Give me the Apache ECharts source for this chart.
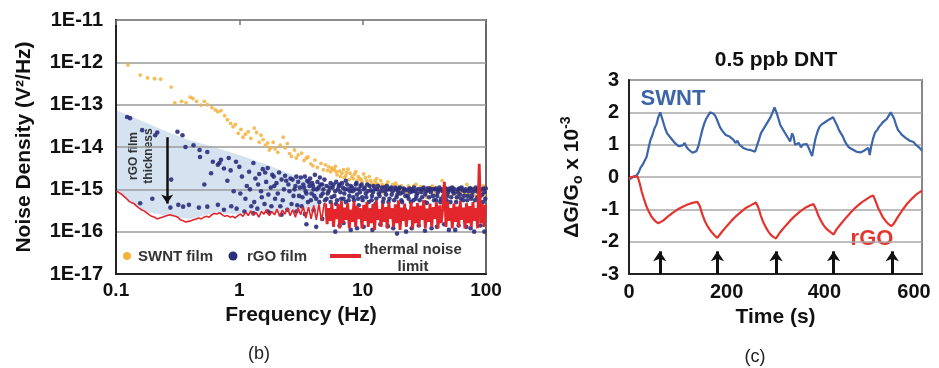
<!DOCTYPE html>
<html><head><meta charset="utf-8">
<script src="https://cdn.jsdelivr.net/npm/echarts@6/dist/echarts.min.js"></script>
<style>html,body{margin:0;padding:0;background:#fff}#c{width:939px;height:368px}</style>
</head><body><div id="c"></div>
<script>
// ---------- panel (b) ----------
const freqTickLabels = ['0.1', '1', '10', '100'];
const noiseTickLabels = ['1E-17', '1E-16', '1E-15', '1E-14', '1E-13', '1E-12', '1E-11'];

const swntFilm = [
  [0.125, 8.7e-13], [0.157, 5.0e-13], [0.18, 4.3e-13], [0.205, 4.1e-13], [0.23, 4.0e-13], [0.28, 2.6e-13],
  [0.30, 1.1e-13], [0.34, 1.2e-13], [0.37, 1.1e-13], [0.40, 1.5e-13], [0.42, 1.4e-13], [0.45, 1.2e-13],
  [0.49, 9.8e-14], [0.52, 1.2e-13], [0.55, 1.0e-13], [0.60, 8.5e-14], [0.64, 7.5e-14], [0.67, 6.8e-14],
  [0.71, 7.2e-14], [0.76, 5.5e-14], [0.80, 4.4e-14], [0.85, 3.6e-14], [0.89, 3.0e-14], [0.93, 3.4e-14],
  [0.98, 2.1e-14], [1.03, 2.6e-14], [1.07, 1.7e-14], [1.12, 2.0e-14], [1.18, 2.3e-14], [1.24, 1.6e-14],
  [1.32, 2.8e-14], [1.38, 2.2e-14], [1.45, 1.3e-14], [1.50, 1.9e-14], [1.56, 1.5e-14], [1.63, 1.1e-14],
  [1.70, 1.25e-14], [1.75, 8.5e-15], [1.80, 9.6e-15], [1.88, 1.3e-14], [1.95, 9.0e-15], [2.05, 7.5e-15],
  [2.15, 1.1e-14], [2.27, 1.7e-14], [2.35, 9.5e-15], [2.45, 1.2e-14], [2.55, 7.0e-15], [2.65, 6.0e-15],
  [2.8, 8.5e-15], [2.9, 5.5e-15], [3.0, 6.5e-15], [3.2, 7.2e-15], [3.35, 4.8e-15], [3.5, 5.5e-15],
  [3.6, 5.8e-15], [3.8, 4.0e-15], [3.95, 3.6e-15], [4.1, 4.9e-15], [4.3, 3.3e-15], [4.6, 4.1e-15],
  [4.8, 2.9e-15], [5.0, 3.8e-15], [5.3, 3.4e-15], [5.5, 2.6e-15], [5.7, 3.0e-15], [5.9, 2.9e-15],
  [6.0, 3.5e-15], [6.2, 2.2e-15], [6.5, 2.7e-15], [6.8, 2.4e-15], [7.1, 1.9e-15], [7.4, 2.5e-15],
  [7.6, 3.0e-15], [7.8, 1.7e-15], [8.2, 2.0e-15], [8.6, 2.3e-15], [9.0, 1.6e-15], [9.5, 1.8e-15],
  [9.9, 1.5e-15], [10.2, 2.3e-15], [10.5, 1.9e-15], [11.0, 1.3e-15], [11.6, 1.6e-15], [12.2, 1.2e-15],
  [12.9, 1.4e-15], [13.0, 1.8e-15], [13.6, 1.1e-15], [14.4, 1.3e-15], [15.0, 8.0e-16], [15.2, 1.0e-15],
  [16.0, 1.5e-15], [17.0, 1.1e-15], [18.0, 9.5e-16], [18.5, 1.4e-15], [19.0, 1.2e-15], [20.0, 9.0e-16],
  [21.2, 1.05e-15], [22.5, 8.5e-16], [23.0, 7.0e-16], [24.0, 1.1e-15], [25.5, 9.0e-16], [26.0, 1.2e-15],
  [27.0, 1.3e-15], [28.7, 8.7e-16], [30.5, 1.0e-15], [32.5, 8.2e-16], [33.0, 6.5e-16], [34.5, 9.5e-16],
  [35.5, 1.1e-15], [36.7, 1.2e-15], [39.0, 8.0e-16], [41.5, 9.2e-16], [44.0, 1.6e-15], [45.0, 6.8e-16],
  [46.8, 8.5e-16], [48.0, 1.05e-15], [49.7, 7.6e-16], [52.8, 1.0e-15], [56.1, 8.0e-16], [58.0, 6.2e-16],
  [59.6, 7.2e-16], [62.0, 1.1e-15], [63.3, 9.0e-16], [67.3, 7.8e-16], [70.0, 1.3e-15], [71.5, 7.4e-16],
  [76.0, 1.1e-15], [80.7, 7.0e-16], [85.7, 8.2e-16], [88.0, 1.0e-15], [91.1, 6.8e-16], [95.0, 1.2e-15],
  [96.8, 7.5e-16],
  [5.2, 2.8e-15], [5.6, 3.2e-15], [6.1, 2.6e-15], [6.6, 2.0e-15], [7.0, 2.9e-15], [7.3, 2.1e-15],
  [7.9, 2.4e-15], [8.4, 1.8e-15], [8.8, 2.6e-15], [9.2, 2.0e-15], [9.7, 1.7e-15], [10.8, 1.6e-15],
  [11.3, 2.0e-15], [11.9, 1.4e-15], [12.6, 1.6e-15], [13.3, 1.3e-15], [14.0, 1.6e-15], [14.8, 1.2e-15],
  [15.6, 1.3e-15], [16.5, 1.0e-15], [17.5, 1.3e-15], [19.5, 1.0e-15], [20.6, 1.2e-15], [21.8, 9.5e-16],
  [23.5, 1.2e-15], [24.8, 1.0e-15], [27.8, 1.0e-15], [29.5, 1.15e-15], [31.5, 9.5e-16], [33.8, 1.1e-15],
  [37.8, 1.0e-15], [40.2, 1.1e-15], [42.8, 1.0e-15], [46.0, 1.2e-15], [50.5, 9.5e-16], [54.5, 1.1e-15],
  [57.8, 9.5e-16], [61.0, 8.5e-16], [65.0, 1.0e-15], [69.0, 9.0e-16], [73.5, 8.5e-16], [78.0, 9.5e-16],
  [83.0, 1.05e-15], [87.0, 8.5e-16], [93.0, 9.5e-16], [98.5, 1.0e-15]
];

const rgoFilm = [
  [0.123, 5.1e-14], [0.13, 4.8e-14], [0.163, 2.5e-14], [0.208, 1.9e-14], [0.216, 2.2e-14], [0.315, 2.3e-14],
  [0.346, 1.9e-14], [0.366, 1.0e-14], [0.425, 1.1e-14], [0.476, 8.5e-15], [0.48, 5.8e-15], [0.55, 7.6e-15],
  [0.61, 4.5e-15], [0.67, 3.8e-15], [0.69, 4.2e-15], [0.71, 5.0e-15], [0.75, 3.1e-15], [0.82, 5.5e-15],
  [0.85, 2.8e-15], [0.94, 4.5e-15], [0.59, 2.4e-15], [0.28, 1.7e-15],
  [0.157, 4.7e-16], [0.197, 6.0e-16], [0.276, 3.7e-16], [0.32, 4.3e-16], [0.35, 3.9e-16], [0.39, 4.3e-16],
  [0.47, 3.7e-16], [0.55, 3.9e-16], [0.67, 4.3e-16], [0.75, 3.3e-16], [0.86, 4.0e-16], [0.95, 3.5e-16],
  [0.52, 1.3e-15], [0.8, 1.6e-15], [0.9, 9.0e-16],
  [1.0, 3.4e-15], [1.05, 2.0e-15], [1.1, 3.0e-16], [1.15, 1.2e-15], [1.2, 2.6e-15], [1.25, 4.0e-16],
  [1.3, 4.2e-15], [1.35, 1.8e-15], [1.4, 3.5e-16], [1.45, 2.3e-15], [1.5, 9.0e-16], [1.55, 3.0e-15],
  [1.6, 4.5e-16], [1.65, 1.5e-15], [1.7, 3.2e-15], [1.75, 2.8e-16], [1.8, 1.1e-15], [1.85, 2.2e-15],
  [1.9, 2.0e-15], [1.95, 6.0e-16], [2.0, 1.4e-15], [2.1, 2.5e-15], [2.15, 4.0e-16], [2.2, 1.7e-15],
  [2.3, 1.0e-15], [2.35, 2.1e-15], [2.45, 3.3e-16], [2.5, 1.3e-15], [2.6, 1.8e-15], [2.7, 1.7e-15],
  [2.75, 7.0e-16], [2.85, 1.2e-15], [2.95, 4.2e-16], [3.0, 1.5e-15],
  [3.1, 1.1e-15], [3.15, 1.9e-15], [3.25, 6.5e-16], [3.3, 1.3e-15], [3.4, 2.0e-15], [3.45, 9.0e-16],
  [3.55, 1.6e-15], [3.6, 5.0e-16], [3.7, 1.2e-15], [3.75, 1.8e-15], [3.85, 8.0e-16], [3.9, 1.4e-15],
  [4.0, 1.0e-15], [4.1, 2.2e-15], [4.2, 6.0e-16], [4.3, 1.5e-15], [4.4, 1.1e-15], [4.5, 1.9e-15],
  [4.6, 7.0e-16], [4.7, 1.3e-15], [4.8, 1.0e-15], [4.9, 1.7e-15], [3.5, 1.5e-16], [4.2, 1.3e-16], [4.7, 2.0e-16],
  [1.02, 8.0e-16], [1.12, 6.0e-16], [1.22, 1.0e-15], [1.32, 5.0e-16], [1.42, 1.3e-15], [1.52, 6.5e-16],
  [1.62, 2.5e-15], [1.72, 7.5e-16], [1.82, 4.0e-16], [1.92, 1.2e-15], [2.05, 8.0e-16], [2.25, 5.5e-16],
  [2.4, 1.6e-15], [2.55, 9.0e-16], [2.65, 4.5e-16], [2.8, 1.0e-15], [2.9, 2.0e-15], [3.05, 7.0e-16],
  [3.2, 4.0e-16], [3.35, 1.1e-15], [3.5, 8.0e-16], [3.65, 1.5e-15], [3.8, 5.5e-16], [3.95, 1.2e-15],
  [4.05, 7.0e-16], [4.25, 1.0e-15], [4.45, 5.0e-16], [4.55, 1.3e-15], [4.75, 8.0e-16], [4.95, 5.5e-16],
  [1.3, 2.7e-16], [1.7, 3.0e-16], [2.2, 2.5e-16], [2.9, 3.0e-16], [3.4, 2.6e-16], [4.0, 3.2e-16],
  [5.1, 1.2e-15], [5.1, 6.0e-16], [5.3, 9.0e-16], [5.5, 1.4e-15], [5.5, 5.0e-16], [5.7, 1.1e-15],
  [5.9, 7.0e-16], [6.1, 1.5e-15], [6.1, 4.5e-16], [6.3, 1.0e-15], [6.5, 1.3e-15], [6.5, 1.4e-16],
  [6.7, 6.0e-16], [6.9, 1.1e-15], [7.1, 8.0e-16], [7.3, 1.6e-15], [7.3, 5.0e-16], [7.6, 1.0e-15],
  [7.8, 7.0e-16], [8.0, 1.2e-15], [8.0, 1.1e-16], [8.3, 9.0e-16], [8.5, 5.5e-16], [8.8, 1.3e-15],
  [9.0, 7.5e-16], [9.3, 1.0e-15], [9.3, 4.2e-16], [9.6, 1.2e-15], [9.9, 6.5e-16], [10.2, 1.0e-15],
  [10.2, 1.3e-16], [10.6, 8.0e-16], [10.9, 1.3e-15], [11.2, 5.0e-16], [11.6, 9.5e-16], [11.9, 7.0e-16],
  [12.3, 1.2e-15], [12.7, 4.5e-16], [13.1, 1.0e-15], [13.5, 8.0e-16], [13.9, 1.5e-16], [14.3, 1.1e-15],
  [14.8, 6.0e-16], [15.2, 9.0e-16], [15.7, 1.2e-15], [16.2, 5.0e-16], [16.7, 1.0e-15], [17.2, 7.5e-16],
  [17.7, 1.2e-16], [18.3, 1.1e-15], [18.8, 6.5e-16], [19.4, 9.0e-16], [20.0, 1.1e-15], [20.6, 5.5e-16],
  [21.2, 8.5e-16], [21.9, 1.0e-15], [22.5, 1.0e-16], [23.2, 7.0e-16], [23.9, 1.05e-15], [24.6, 5.0e-16],
  [25.4, 9.0e-16], [26.1, 1.1e-15], [26.9, 6.0e-16], [27.7, 8.0e-16], [28.5, 1.4e-16], [29.4, 1.0e-15],
  [30.3, 6.5e-16], [31.2, 1.1e-15], [32.1, 7.5e-16], [33.1, 4.8e-16], [34.1, 9.5e-16], [35.1, 1.05e-15],
  [36.2, 1.2e-16], [37.2, 7.0e-16], [38.4, 1.0e-15], [39.5, 5.5e-16], [40.7, 8.5e-16], [41.9, 1.1e-15],
  [43.2, 6.0e-16], [44.5, 9.0e-16], [45.8, 1.5e-16], [47.2, 1.05e-15], [48.6, 7.0e-16], [50.0, 9.5e-16],
  [51.5, 5.0e-16], [53.1, 1.1e-15], [54.7, 8.0e-16], [56.3, 1.1e-16], [58.0, 6.5e-16], [59.7, 1.0e-15],
  [61.5, 7.5e-16], [63.4, 1.1e-15], [65.3, 5.5e-16], [67.2, 9.0e-16], [69.2, 1.3e-16], [71.3, 7.0e-16],
  [73.4, 1.05e-15], [75.6, 6.0e-16], [77.9, 8.5e-16], [80.2, 1.0e-16], [82.6, 1.1e-15], [85.1, 6.5e-16],
  [87.7, 9.0e-16], [90.3, 1.4e-16], [93.0, 7.5e-16], [95.8, 1.05e-15], [98.6, 6.0e-16],
  [5.2, 8.0e-16], [5.4, 1.1e-15], [5.6, 6.5e-16], [5.8, 1.3e-15], [6.0, 9.0e-16], [6.2, 5.5e-16],
  [6.4, 1.2e-15], [6.6, 8.5e-16], [6.8, 1.4e-15], [7.0, 6.0e-16], [7.2, 1.0e-15], [7.5, 1.3e-15],
  [7.7, 5.5e-16], [7.9, 9.0e-16], [8.2, 1.1e-15], [8.4, 6.5e-16], [8.7, 1.0e-15], [8.9, 1.4e-15],
  [9.2, 6.0e-16], [9.5, 8.5e-16], [9.8, 1.3e-15], [10.0, 5.5e-16], [10.4, 1.1e-15], [10.7, 6.5e-16],
  [11.0, 9.0e-16], [11.4, 1.2e-15], [11.8, 5.5e-16], [12.1, 8.5e-16], [12.5, 1.0e-15], [12.9, 6.0e-16],
  [13.3, 1.2e-15], [13.7, 7.0e-16], [14.1, 9.0e-16], [14.6, 5.0e-16], [15.0, 1.1e-15], [15.5, 7.5e-16],
  [16.0, 1.0e-15], [16.5, 6.0e-16], [17.0, 1.1e-15], [17.5, 9.0e-16], [18.0, 5.5e-16], [18.6, 1.0e-15],
  [19.1, 7.5e-16], [19.7, 1.05e-15], [20.3, 8.0e-16], [20.9, 5.0e-16], [21.5, 1.05e-15], [22.2, 7.0e-16],
  [22.9, 9.5e-16], [23.6, 6.0e-16], [24.3, 8.5e-16], [25.0, 1.0e-15], [25.8, 5.5e-16], [26.5, 9.0e-16],
  [27.3, 7.0e-16], [28.1, 1.0e-15], [29.0, 5.5e-16], [29.9, 8.5e-16], [30.8, 1.0e-15], [31.7, 5.0e-16],
  [32.7, 9.0e-16], [33.6, 1.05e-15], [34.6, 6.5e-16], [35.7, 8.5e-16], [36.8, 1.0e-15], [37.9, 5.5e-16],
  [39.0, 1.05e-15], [40.2, 7.0e-16], [41.4, 9.5e-16], [42.6, 5.0e-16], [43.9, 1.0e-15], [45.2, 7.0e-16],
  [46.5, 1.0e-15], [47.9, 5.5e-16], [49.3, 8.5e-16], [50.8, 1.05e-15], [52.3, 6.5e-16], [53.9, 9.0e-16],
  [55.5, 1.0e-15], [57.2, 5.0e-16], [58.9, 8.5e-16], [60.7, 1.05e-15], [62.5, 6.0e-16], [64.4, 9.5e-16],
  [66.3, 7.0e-16], [68.3, 1.0e-15], [70.3, 5.5e-16], [72.4, 9.0e-16], [74.5, 1.05e-15], [76.8, 7.0e-16],
  [79.0, 1.0e-15], [81.4, 5.5e-16], [83.8, 9.0e-16], [86.4, 1.0e-15], [89.0, 7.0e-16], [91.6, 1.0e-15],
  [94.4, 5.0e-16], [97.2, 8.5e-16], [99.5, 1.05e-15],
  [6.0, 1.0e-16], [7.0, 1.6e-16], [9.0, 1.2e-16], [12.0, 1.1e-16], [16.0, 1.35e-16], [19.0, 9.0e-17],
  [25.0, 1.2e-16], [32.0, 1.05e-16], [40.0, 1.3e-16], [50.0, 1.1e-16], [60.0, 1.4e-16], [75.0, 1.2e-16],
  [97.0, 1.0e-16], [5.8, 3.0e-16], [8.6, 2.6e-16], [11.5, 3.2e-16], [15.5, 2.8e-16], [22.0, 3.3e-16],
  [30.0, 2.5e-16], [42.0, 3.1e-16], [55.0, 2.7e-16], [68.0, 3.3e-16], [85.0, 2.9e-16]
];

const thermalFreq = [
  0.100, 0.105, 0.110, 0.116, 0.122, 0.128, 0.134, 0.140, 0.147, 0.154, 0.161, 0.169, 0.177, 0.186, 0.195,
  0.205, 0.215, 0.226, 0.237, 0.249, 0.261, 0.274, 0.288, 0.302, 0.317, 0.333, 0.350, 0.367, 0.385, 0.405,
  0.425, 0.446, 0.468, 0.492, 0.516, 0.542, 0.569, 0.598, 0.628, 0.659, 0.692, 0.727, 0.763, 0.801, 0.841,
  0.883, 0.927, 0.974, 1.02, 1.07, 1.13, 1.18, 1.24, 1.30, 1.37, 1.44, 1.51, 1.58, 1.66, 1.75, 1.83, 1.93,
  2.02, 2.12, 2.23, 2.34, 2.46, 2.58, 2.71, 2.85, 2.99, 3.14, 3.30, 3.46, 3.64, 3.82, 4.01, 4.21, 4.42,
  4.64, 4.87,
  5.0, 5.15, 5.3, 5.46, 5.63, 5.8, 5.97, 6.15, 6.33, 6.52, 6.72, 6.92, 7.13, 7.34, 7.56, 7.79, 8.02, 8.26,
  8.51, 8.77, 9.03, 9.3, 9.58, 9.87, 10.2, 10.5, 10.8, 11.1, 11.4, 11.8, 12.1, 12.5, 12.9, 13.3, 13.7, 14.1,
  14.5, 14.9, 15.4, 15.8, 16.3, 16.8, 17.3, 17.8, 18.4, 18.9, 19.5, 20.1, 20.7, 21.3, 21.9, 22.6, 23.3, 24.0,
  24.7, 25.4, 26.2, 27.0, 27.8, 28.6, 29.5, 30.4, 31.3, 32.2, 33.2, 34.2, 35.2, 36.3, 37.4, 38.5, 39.6, 40.8,
  42.1, 43.3, 44.6, 46.0, 47.4, 48.8, 50.2, 51.7, 53.3, 54.9, 56.5, 58.2, 60.0, 61.8, 63.6, 65.5, 67.5, 69.5,
  71.6, 73.8, 76.0, 78.3, 80.6, 83.0, 85.5, 88.1, 90.7, 93.4, 96.2, 99.0
];
const thermalNoise = [
  9.0e-16, 8.5e-16, 7.8e-16, 6.8e-16, 6.0e-16, 5.2e-16, 4.8e-16, 4.6e-16, 4.0e-16, 3.6e-16, 3.3e-16, 3.1e-16,
  2.8e-16, 2.5e-16, 2.3e-16, 2.2e-16, 2.0e-16, 2.1e-16, 2.2e-16, 2.3e-16, 2.4e-16, 2.5e-16, 2.4e-16, 2.3e-16,
  2.2e-16, 1.9e-16, 1.8e-16, 1.7e-16, 1.75e-16, 1.8e-16, 1.9e-16, 2.0e-16, 2.1e-16, 2.0e-16, 2.2e-16, 2.3e-16,
  2.2e-16, 2.5e-16, 2.7e-16, 2.6e-16, 2.8e-16, 2.5e-16, 2.3e-16, 2.4e-16, 2.2e-16, 2.3e-16, 2.1e-16, 2.4e-16,
  2.6e-16, 2.3e-16, 2.9e-16, 2.4e-16, 3.1e-16, 2.5e-16, 2.8e-16, 2.2e-16, 3.0e-16, 2.6e-16, 3.3e-16, 2.4e-16,
  3.0e-16, 2.5e-16, 3.4e-16, 2.3e-16, 3.2e-16, 2.6e-16, 3.6e-16, 2.4e-16, 3.3e-16, 2.2e-16, 3.7e-16, 2.5e-16,
  3.9e-16, 2.1e-16, 3.8e-16, 2.0e-16, 4.2e-16, 1.9e-16, 4.4e-16, 1.8e-16, 4.6e-16,
  4.6e-16, 1.5e-16, 3.6e-16, 1.8e-16, 4.8e-16, 1.3e-16, 3.4e-16, 2.0e-16, 4.5e-16, 1.2e-16, 5.3e-16, 1.6e-16,
  3.7e-16, 1.9e-16, 4.7e-16, 1.2e-16, 3.3e-16, 1.7e-16, 5.2e-16, 1.3e-16, 4.0e-16, 2.0e-16, 3.6e-16, 1.2e-16,
  4.3e-16, 1.8e-16, 5.0e-16, 1.3e-16, 3.5e-16, 1.6e-16, 4.5e-16, 1.1e-16, 5.4e-16, 1.9e-16, 3.4e-16, 1.3e-16,
  4.6e-16, 1.7e-16, 3.8e-16, 1.2e-16, 4.9e-16, 2.0e-16, 3.6e-16, 1.3e-16, 4.4e-16, 1.6e-16, 5.5e-16, 1.1e-16,
  3.7e-16, 1.8e-16, 4.6e-16, 1.3e-16, 3.3e-16, 1.9e-16, 5.0e-16, 1.2e-16, 3.9e-16, 1.6e-16, 4.7e-16, 1.3e-16,
  4.1e-16, 1.9e-16, 5.6e-16, 1.2e-16, 3.5e-16, 1.7e-16, 4.6e-16, 1.3e-16, 3.8e-16, 2.0e-16, 4.9e-16, 1.2e-16,
  4.2e-16, 1.6e-16, 3.5e-16, 1.5e-15, 1.3e-16, 5.1e-16, 1.8e-16, 3.6e-16, 1.2e-16, 4.6e-16, 1.7e-16, 3.9e-16,
  1.3e-16, 5.3e-16, 1.9e-16, 3.7e-16, 1.2e-16, 4.7e-16, 1.6e-16, 4.0e-16, 1.3e-16, 5.0e-16, 1.8e-16, 3.6e-16,
  1.2e-16, 4.0e-15, 1.6e-16, 4.5e-16, 1.3e-16, 4.3e-16
];
const thermalBandStart = 5.0; // Hz, where the thermal trace turns into a dense noisy band

const shadeFreq = [0.1, 0.17, 0.26, 0.38, 0.7, 1.0, 1.6, 2.5, 3.5, 4.6, 4.6, 3.0, 2.0, 1.0, 0.6, 0.4, 0.25, 0.18, 0.14, 0.12, 0.1];
const shadeLevel = [7.5e-14, 3.9e-14, 2.3e-14, 1.5e-14, 9.0e-15, 6.5e-15, 4.0e-15, 2.4e-15, 1.6e-15, 1.15e-15, 3.5e-16, 3.0e-16, 2.8e-16, 2.6e-16, 2.7e-16, 2.0e-16, 2.4e-16, 2.9e-16, 4.4e-16, 6.0e-16, 9.0e-16];

const thicknessArrow = [[0.26, 1.7e-14], [0.26, 4.6e-16]];

// ---------- panel (c) ----------
const swntResponse = [
  [0, -0.08], [4, -0.02], [8, 0.0], [12, 0.02], [16, 0.05], [20, 0.15], [24, 0.3], [28, 0.38], [32, 0.5],
  [36, 0.62], [40, 0.9], [44, 1.15], [48, 1.3], [52, 1.5], [56, 1.62], [60, 1.85], [64, 2.0], [67, 1.85],
  [70, 1.7], [74, 1.5], [78, 1.35], [82, 1.38], [86, 1.2], [90, 1.15], [94, 1.05], [98, 1.1], [102, 0.95],
  [106, 1.0], [110, 0.98], [114, 1.05], [118, 0.92], [122, 0.85], [126, 0.8], [130, 0.75], [134, 0.76],
  [138, 0.8], [142, 0.95], [146, 1.2], [150, 1.45], [154, 1.65], [158, 1.8], [162, 1.9], [166, 2.0],
  [170, 1.98], [174, 1.95], [178, 1.85], [182, 1.7], [186, 1.55], [190, 1.45], [194, 1.4], [198, 1.3],
  [202, 1.35], [206, 1.25], [210, 1.2], [214, 1.15], [218, 1.05], [222, 1.12], [226, 1.0], [230, 0.98],
  [234, 0.9], [238, 0.88], [242, 0.85], [246, 0.84], [250, 0.83], [254, 0.8], [258, 0.78], [262, 0.82],
  [266, 1.15], [270, 1.35], [274, 1.45], [278, 1.55], [282, 1.65], [286, 1.7], [290, 1.85], [294, 2.0],
  [298, 2.15], [302, 2.0], [306, 1.8], [310, 1.6], [314, 1.5], [318, 1.4], [322, 1.3], [326, 1.2],
  [330, 1.1], [334, 1.35], [337, 1.25], [340, 1.0], [344, 0.98], [348, 1.05], [352, 0.92], [356, 1.0],
  [360, 0.95], [364, 1.02], [368, 0.9], [372, 0.75], [375, 0.65], [378, 0.9], [382, 1.2], [386, 1.4],
  [390, 1.55], [394, 1.62], [398, 1.65], [402, 1.7], [406, 1.72], [410, 1.78], [414, 1.8], [418, 1.85],
  [422, 1.72], [426, 1.6], [430, 1.45], [434, 1.35], [438, 1.25], [442, 1.1], [446, 1.0], [450, 0.92],
  [454, 0.88], [458, 0.85], [462, 0.8], [466, 0.78], [470, 0.78], [474, 0.76], [478, 0.8], [482, 0.82],
  [486, 0.88], [490, 0.9], [493, 0.68], [496, 0.95], [500, 1.2], [504, 1.38], [508, 1.45], [512, 1.55],
  [516, 1.62], [520, 1.7], [524, 1.75], [528, 1.8], [532, 1.9], [536, 2.0], [539, 2.05], [543, 1.8],
  [547, 1.6], [551, 1.45], [555, 1.38], [559, 1.3], [563, 1.28], [567, 1.2], [571, 1.18], [575, 1.12],
  [579, 1.1], [583, 1.08], [587, 1.0], [591, 0.98], [595, 0.9], [600, 0.82]
];
const rgoResponse = [
  [0, -0.05], [5, 0.0], [12, 0.02], [18, 0.0], [22, -0.2], [26, -0.45], [30, -0.65], [35, -0.88], [40, -1.05],
  [45, -1.2], [50, -1.3], [55, -1.38], [60, -1.43], [63, -1.45], [70, -1.35], [80, -1.22], [90, -1.1],
  [100, -1.0], [110, -0.92], [120, -0.85], [130, -0.8], [140, -0.77], [145, -0.9], [150, -1.15], [155, -1.35],
  [160, -1.5], [165, -1.62], [170, -1.72], [176, -1.82], [181, -1.88], [190, -1.7], [200, -1.52], [210, -1.35],
  [220, -1.2], [230, -1.07], [240, -0.95], [250, -0.87], [260, -0.79], [265, -0.95], [270, -1.2], [275, -1.4],
  [280, -1.55], [285, -1.68], [290, -1.78], [296, -1.86], [301, -1.9], [310, -1.7], [320, -1.52], [330, -1.35],
  [340, -1.2], [350, -1.07], [360, -0.96], [370, -0.88], [378, -0.84], [383, -1.0], [388, -1.2], [393, -1.35],
  [398, -1.48], [403, -1.58], [408, -1.65], [414, -1.72], [419, -1.78], [425, -1.62], [435, -1.43], [445, -1.25],
  [455, -1.08], [465, -0.93], [475, -0.8], [485, -0.7], [495, -0.6], [500, -0.57], [505, -0.75], [510, -0.95],
  [515, -1.1], [520, -1.25], [525, -1.35], [531, -1.45], [537, -1.52], [542, -1.45], [550, -1.25], [560, -1.02],
  [570, -0.82], [580, -0.66], [590, -0.52], [600, -0.42]
];
const exposureTimes = [63, 181, 301, 419, 539];
const timeMaxLabel = '600';

// ---------- chart ----------
const FONT = '"Liberation Sans", Arial, Helvetica, sans-serif';
const chart = echarts.init(document.getElementById('c'), null, { renderer: 'canvas' });

const thermalLine = thermalFreq.map((f, i) => [f, thermalNoise[i]]);
const thermalLow = thermalLine.filter(p => p[0] <= thermalBandStart);
const thermalBand = thermalLine.filter(p => p[0] >= thermalBandStart);
const logIdx = v => Math.round(Math.log10(v));

const option = {
  animation: false,
  backgroundColor: '#fff',
  textStyle: { fontFamily: FONT },
  grid: [
    { left: 116, top: 20, width: 370, height: 254, show: true, borderColor: '#666', borderWidth: 2, backgroundColor: 'transparent' },
    { left: 629, top: 80, width: 293, height: 194, show: true, borderColor: '#888', borderWidth: 2, backgroundColor: 'transparent' }
  ],
  xAxis: [
    {
      type: 'log', gridIndex: 0, logBase: 10, min: 0.1, max: 100, splitNumber: 3,
      axisLine: { show: true, lineStyle: { color: '#222', width: 2 } },
      axisTick: { show: false }, splitLine: { show: false }, minorTick: { show: false },
      axisLabel: {
        formatter: v => freqTickLabels[logIdx(v) + 1], fontSize: 19, fontWeight: 'bold', color: '#111',
        margin: 7, fontFamily: FONT
      },
      name: 'Frequency (Hz)', nameLocation: 'middle', nameGap: 31,
      nameTextStyle: { fontSize: 21, fontWeight: 'bold', color: '#111', fontFamily: FONT }
    },
    {
      type: 'log', gridIndex: 0, logBase: 10, min: 0.1, max: 100, splitNumber: 3, position: 'top',
      axisLine: { show: false }, axisLabel: { show: false }, splitLine: { show: false },
      axisTick: { show: true, inside: true, length: 5, lineStyle: { color: '#777', width: 1.5 } }
    },
    {
      type: 'value', gridIndex: 1, min: 0, max: 600, interval: 200,
      axisLine: { show: true, onZero: false, lineStyle: { color: '#222', width: 2 } },
      axisTick: { show: false }, splitLine: { show: false },
      axisLabel: {
        formatter: v => (String(v) === timeMaxLabel ? '{m|' + v + '}' : String(v)),
        fontSize: 20, fontWeight: 'bold', color: '#111', margin: 8, fontFamily: FONT,
        rich: { m: { fontSize: 20, fontWeight: 'bold', color: '#111', fontFamily: FONT, padding: [0, 16, 0, 0] } }
      },
      name: 'Time (s)', nameLocation: 'middle', nameGap: 31,
      nameTextStyle: { fontSize: 21, fontWeight: 'bold', color: '#111', fontFamily: FONT }
    }
  ],
  yAxis: [
    {
      type: 'log', gridIndex: 0, logBase: 10, min: 1e-17, max: 1e-11, splitNumber: 6,
      axisLine: { show: true, lineStyle: { color: '#222', width: 2 } },
      axisTick: { show: false }, minorTick: { show: false },
      splitLine: { show: true, lineStyle: { color: '#9a9a9a', width: 1.5 } },
      axisLabel: {
        formatter: v => noiseTickLabels[logIdx(v) + 17], fontSize: 20, fontWeight: 'bold', color: '#111',
        margin: 13, fontFamily: FONT
      },
      name: 'Noise Density (V²/Hz)', nameLocation: 'middle', nameGap: 81,
      nameTextStyle: { fontSize: 21, fontWeight: 'bold', color: '#111', fontFamily: FONT }
    },
    {
      type: 'value', gridIndex: 1, min: -3, max: 3, interval: 1,
      axisLine: { show: true, lineStyle: { color: '#222', width: 2 } },
      axisTick: { show: false },
      splitLine: { show: true, lineStyle: { color: '#a8a8a8', width: 1.5 } },
      axisLabel: { fontSize: 20, fontWeight: 'bold', color: '#111', margin: 10, fontFamily: FONT },
      name: '{m|ΔG/G}{s|o}{m| x 10}{p|-3}', nameLocation: 'middle', nameGap: 44,
      nameTextStyle: {
        fontSize: 21, fontWeight: 'bold', color: '#111', fontFamily: FONT,
        rich: {
          m: { fontSize: 21, fontWeight: 'bold', color: '#111', fontFamily: FONT, lineHeight: 26 },
          s: { fontSize: 14, fontWeight: 'bold', color: '#111', fontFamily: FONT, lineHeight: 12, verticalAlign: 'bottom' },
          p: { fontSize: 14, fontWeight: 'bold', color: '#111', fontFamily: FONT, lineHeight: 12, verticalAlign: 'top' }
        }
      }
    }
  ],
  series: [
    {
      type: 'custom', name: 'rGO film thickness range', xAxisIndex: 0, yAxisIndex: 0, z: -1, silent: true,
      data: [[shadeFreq[0], shadeLevel[0]]],
      renderItem: (params, api) => ({
        type: 'polygon',
        shape: { points: shadeFreq.map((f, i) => api.coord([f, shadeLevel[i]])) },
        style: { fill: '#d5e3f1' }
      })
    },
    {
      type: 'scatter', name: 'SWNT film', xAxisIndex: 0, yAxisIndex: 0, data: swntFilm,
      symbol: 'circle', symbolSize: 3.8, itemStyle: { color: '#f3b23c', opacity: 0.85 }, silent: true
    },
    {
      type: 'scatter', name: 'rGO film', xAxisIndex: 0, yAxisIndex: 0, data: rgoFilm,
      symbol: 'circle', symbolSize: 4.6, itemStyle: { color: '#2b2e7c', opacity: 0.9 }, silent: true,
      markLine: {
        silent: true, symbol: ['none', 'arrow'], symbolSize: 9, label: { show: false },
        lineStyle: { color: '#111', width: 2.5, type: 'solid' }, emphasis: { disabled: true },
        data: [[{ coord: thicknessArrow[0] }, { coord: thicknessArrow[1] }]]
      }
    },
    {
      type: 'line', name: 'thermal noise limit', xAxisIndex: 0, yAxisIndex: 0, data: thermalLow,
      showSymbol: false, lineStyle: { color: '#e3262b', width: 1.6 }, silent: true
    },
    {
      type: 'line', name: 'thermal noise limit', xAxisIndex: 0, yAxisIndex: 0, data: thermalBand,
      showSymbol: false, lineStyle: { color: '#e3262b', width: 2.8 }, silent: true
    },
    {
      type: 'line', name: 'SWNT', xAxisIndex: 2, yAxisIndex: 1, data: swntResponse,
      showSymbol: false, lineStyle: { color: '#3c64a9', width: 2.2 }, silent: true
    },
    {
      type: 'line', name: 'rGO', xAxisIndex: 2, yAxisIndex: 1, data: rgoResponse,
      showSymbol: false, lineStyle: { color: '#e3342f', width: 2.2 }, silent: true,
      markLine: {
        silent: true, symbol: ['none', 'arrow'], symbolSize: 10, label: { show: false },
        lineStyle: { color: '#111', width: 3, type: 'solid' }, emphasis: { disabled: true },
        data: exposureTimes.map(t => [{ coord: [t, -3] }, { coord: [t, -2.3] }])
      }
    }
  ],
  graphic: [
    { type: 'circle', shape: { cx: 127, cy: 256, r: 4 }, style: { fill: '#f3b23c' }, silent: true },
    { type: 'text', x: 138, y: 257, style: { text: 'SWNT film', font: 'bold 15px ' + FONT, fill: '#333', align: 'left', verticalAlign: 'middle' }, silent: true },
    { type: 'circle', shape: { cx: 233, cy: 256, r: 4.5 }, style: { fill: '#2b2e7c' }, silent: true },
    { type: 'text', x: 247, y: 257, style: { text: 'rGO film', font: 'bold 15px ' + FONT, fill: '#333', align: 'left', verticalAlign: 'middle' }, silent: true },
    { type: 'line', shape: { x1: 330, y1: 256, x2: 361, y2: 256 }, style: { stroke: '#e3262b', lineWidth: 4 }, silent: true },
    { type: 'text', x: 413, y: 258, style: { text: 'thermal noise\nlimit', font: 'bold 15px ' + FONT, lineHeight: 17, fill: '#333', align: 'center', verticalAlign: 'middle' }, silent: true },
    { type: 'text', x: 141, y: 156, rotation: Math.PI / 2, style: { text: 'rGO film\nthickness', font: 'bold 12px ' + FONT, lineHeight: 15, fill: '#333', align: 'center', verticalAlign: 'middle' }, silent: true },
    { type: 'text', x: 673, y: 99, style: { text: 'SWNT', font: 'bold 22px ' + FONT, fill: '#3c64a9', align: 'center', verticalAlign: 'middle' }, silent: true },
    { type: 'text', x: 872, y: 239, style: { text: 'rGO', font: 'bold 22px ' + FONT, fill: '#e3342f', align: 'center', verticalAlign: 'middle' }, silent: true },
    { type: 'text', x: 776, y: 60, style: { text: '0.5 ppb DNT', font: 'bold 21px ' + FONT, fill: '#111', align: 'center', verticalAlign: 'middle' }, silent: true },
    { type: 'text', x: 259, y: 354, style: { text: '(b)', font: '18px ' + FONT, fill: '#222', align: 'center', verticalAlign: 'middle' }, silent: true },
    { type: 'text', x: 755, y: 357, style: { text: '(c)', font: '18px ' + FONT, fill: '#222', align: 'center', verticalAlign: 'middle' }, silent: true }
  ]
};
chart.setOption(option);
</script>
</body></html>
